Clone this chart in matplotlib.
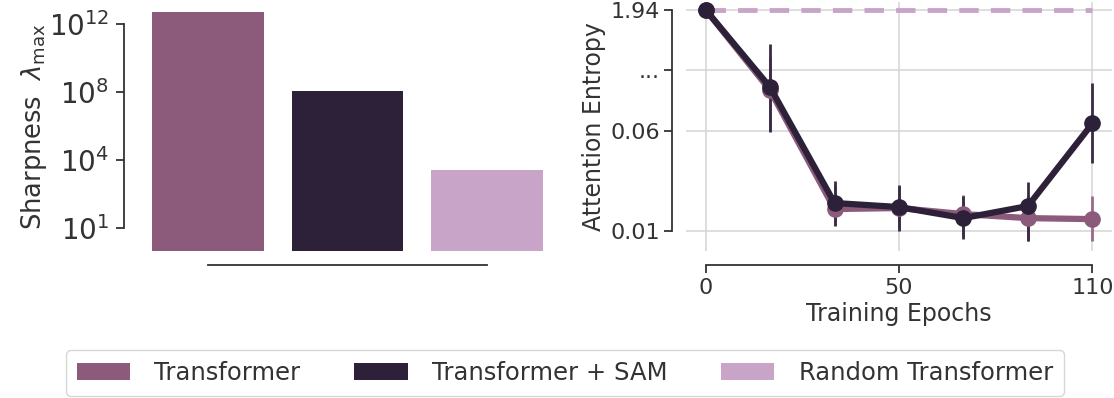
#!/usr/bin/env python3
"""Sharpness bars and attention-entropy curves: Transformer vs SAM vs random."""

import matplotlib
matplotlib.use('Agg')
import matplotlib.pyplot as plt
import numpy as np

plt.rcParams.update({
    'font.family': 'DejaVu Sans',
    'font.size': 15,
    'text.color': '#333333',
    'axes.labelcolor': '#333333',
    'axes.edgecolor': '#333333',
    'xtick.color': '#333333',
    'ytick.color': '#333333',
    'axes.linewidth': 1.3,
    'xtick.major.width': 1.3,
    'ytick.major.width': 1.3,
    'xtick.major.size': 6,
    'ytick.major.size': 6,
})

C_TF = '#8C5B7B'
C_SAM = '#2D2139'
C_RND = '#C8A4C8'

# left panel: sharpness lambda_max
models = ['Transformer', 'Transformer + SAM', 'Random Transformer']
sharpness = [5.2e12, 1.2e8, 3.8e3]
sharp_ticks = [1e1, 1e4, 1e8, 1e12]
sharp_labels = [r'$10^{1}$', r'$10^{4}$', r'$10^{8}$', r'$10^{12}$']

# right panel: attention entropy over training
epoch_idx = [0, 1, 2, 3, 4, 5, 6]
epoch_ticks = [0, 3, 6]
epoch_labels = ['0', '50', '110']
ent_tf = [1.94, 0.687, 0.021, 0.0215, 0.0185, 0.0165, 0.016]
ent_tf_lo = [1.94, 0.06, 0.013, 0.011, 0.007, 0.005, 0.005]
ent_tf_hi = [1.94, 1.20, 0.033, 0.032, 0.028, 0.028, 0.0275]
ent_sam = [1.94, 0.734, 0.024, 0.022, 0.0165, 0.0225, 0.17]
ent_sam_lo = [1.94, 0.0595, 0.0125, 0.010, 0.006, 0.005, 0.044]
ent_sam_hi = [1.94, 1.41, 0.035, 0.033, 0.0275, 0.0345, 0.796]
ent_rnd = [1.94] * 7
ent_ticks = [0.01, 0.06, 1.0, 1.94]
ent_labels = ['0.01', '0.06', '...', '1.94']


def piecewise(knots, pos):
    """Broken axis: linear between knots, linear extrapolation outside."""
    knots = np.asarray(knots, float)
    pos = np.asarray(pos, float)

    def mapping(a, b):
        def f(v):
            v = np.asarray(v, float)
            out = np.interp(v, a, b)
            lo = b[0] + (v - a[0]) * (b[1] - b[0]) / (a[1] - a[0])
            hi = b[-1] + (v - a[-1]) * (b[-1] - b[-2]) / (a[-1] - a[-2])
            out = np.where(v < a[0], lo, out)
            return np.where(v > a[-1], hi, out)
        return f
    return mapping(knots, pos), mapping(pos, knots)


fig = plt.figure(figsize=(11.14, 3.98), dpi=100)
ax1 = fig.add_axes([0.124, 0.369, 0.376, 0.626])
ax2 = fig.add_axes([0.616, 0.369, 0.382, 0.626])

# ── left: sharpness bars on a squeezed log axis ──
f_exp, i_exp = piecewise([1, 4, 8, 12], [0, 1, 2, 3])


def sharp_fwd(y):
    with np.errstate(divide='ignore', invalid='ignore'):
        return f_exp(np.log10(np.clip(y, 1e-300, None)))


def sharp_inv(p):
    return 10 ** i_exp(p)


ax1.set_yscale('function', functions=(sharp_fwd, sharp_inv))
base = 1.0
x = np.arange(len(models))
colors = [C_TF, C_SAM, C_RND]
for xi, val, col in zip(x, sharpness, colors):
    ax1.bar(xi, val - base, bottom=base, width=0.8, color=col, label=models[xi])
ax1.set_xlim(-0.5, 2.5)
ax1.set_ylim(base, 2e13)
ax1.set_yticks(sharp_ticks)
ax1.set_yticklabels(sharp_labels)
ax1.yaxis.set_minor_locator(matplotlib.ticker.NullLocator())
ax1.tick_params(axis='y', pad=5, labelsize=20)
ax1.set_xticks([0, 2])
ax1.tick_params(axis='x', length=0, labelbottom=False)
ax1.set_ylabel(r'Sharpness  $\lambda_{\max}$', fontsize=18.5, labelpad=0)
for s in ['top', 'right']:
    ax1.spines[s].set_visible(False)
ax1.spines['left'].set_position(('outward', 10))
ax1.spines['bottom'].set_position(('outward', 10))
ax1.spines['left'].set_bounds(sharp_ticks[0], sharp_ticks[-1])
ax1.spines['bottom'].set_bounds(0, 2)

# ── right: attention entropy ──
f_ent, i_ent = piecewise(ent_ticks, [0, 1, 1.6, 2.2])
ax2.set_yscale('function', functions=(f_ent, i_ent))
ax2.grid(True, color='#d4d4d4', linewidth=1.1)
ax2.set_axisbelow(True)

ax2.plot(epoch_idx, ent_rnd, color=C_RND, lw=3.5, ls=(0, (4, 2.5)), zorder=2)
for ent, lo, hi, col, ecol in [(ent_tf, ent_tf_lo, ent_tf_hi, C_TF, '#9a6a8c'),
                               (ent_sam, ent_sam_lo, ent_sam_hi, C_SAM, '#3a2b44')]:
    ent = np.array(ent)
    yerr = [ent - np.array(lo), np.array(hi) - ent]
    ax2.errorbar(epoch_idx, ent, yerr=yerr, fmt='none', ecolor=ecol,
                 elinewidth=2, zorder=3)
    ax2.plot(epoch_idx, ent, color=col, lw=4.5, marker='o', markersize=11, zorder=4)

ax2.set_xlim(-0.3, 6.3)
ax2.set_ylim(0.0001, 2.06)
ax2.set_xticks(epoch_ticks)
ax2.set_xticklabels(epoch_labels)
ax2.set_yticks(ent_ticks)
ax2.set_yticklabels(ent_labels)
ax2.yaxis.set_minor_locator(matplotlib.ticker.NullLocator())
ax2.tick_params(axis='both', labelsize=16)
ax2.tick_params(axis='y', pad=3)
ax2.set_xlabel('Training Epochs', fontsize=17, labelpad=3)
ax2.set_ylabel('Attention Entropy', fontsize=17, labelpad=3)
for s in ['top', 'right']:
    ax2.spines[s].set_visible(False)
ax2.spines['left'].set_position(('outward', 10))
ax2.spines['bottom'].set_position(('outward', 10))
ax2.spines['left'].set_bounds(ent_ticks[0], ent_ticks[-1])
ax2.spines['bottom'].set_bounds(0, 6)

handles, labels = ax1.get_legend_handles_labels()
fig.legend(handles, labels, loc='lower center', bbox_to_anchor=(0.507, 0.0),
           ncol=3, fontsize=17.5, handlelength=2.2, handleheight=0.7,
           handletextpad=1.0, columnspacing=2.2, frameon=True,
           edgecolor='#cccccc', fancybox=True, borderpad=0.45,
           borderaxespad=0.1)

fig.savefig('out.png', dpi=100)
